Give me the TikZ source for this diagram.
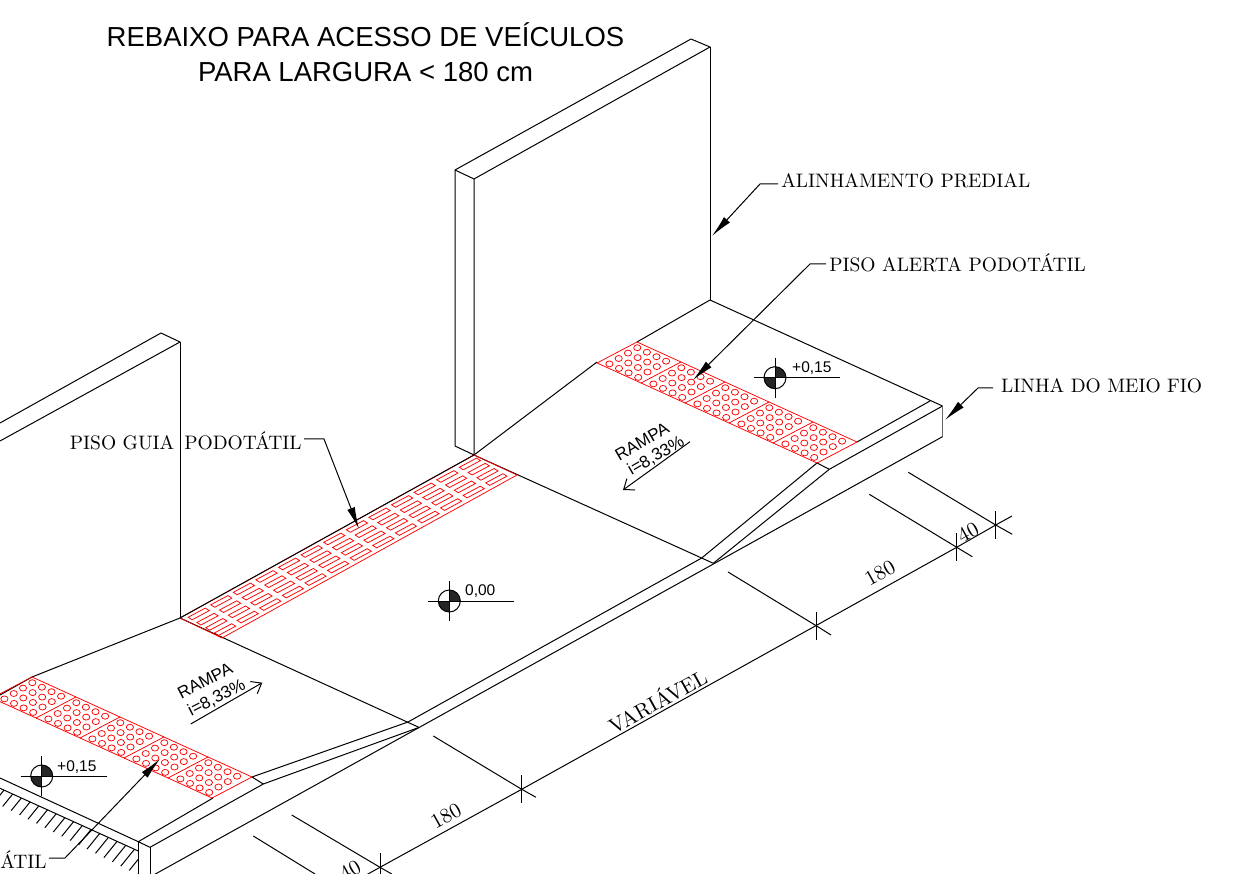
\documentclass[tikz,border=0pt]{standalone}
\usepackage{fontspec}
\usetikzlibrary{arrows.meta}
\newfontfamily\arialfont{Liberation Sans}
\tikzset{
    line/.style={line width=1pt,line join=round},
    redline/.style={draw=red,line width=0.75pt},
    leader/.style={line width=1pt,-{Latex[length=22pt,width=8pt]}},
    dimline/.style={line width=1pt},
    rampline/.style={line width=1pt,-{Straight Barb[length=9pt,width=14pt]}},
    callout/.style={inner sep=0pt,anchor=west,scale=1.95,font=\fontsize{10}{12}\selectfont},
    dimtext/.style={inner sep=0pt,rotate=29,scale=2.1,font=\fontsize{10}{12}\selectfont},
    ramptext/.style={inner sep=0pt,font=\arialfont\fontsize{17}{19}\selectfont},
    leveltext/.style={inner sep=0pt,anchor=west,font=\arialfont\fontsize{15.5}{18}\selectfont},
    levelmark/.pic={
        \fill[black!85] (0,0) -- (11pt,0pt) arc[start angle=0,end angle=90,radius=11pt] -- cycle;
        \fill[black!85] (0,0) -- (-11pt,0pt) arc[start angle=180,end angle=270,radius=11pt] -- cycle;
        \draw[line] (0,0) circle[radius=11pt];
        \draw[line] (-21,0) -- (65,0);
        \draw[line] (0,-20) -- (0,20);
    },
    alertband/.pic={
        \draw[redline] (0,0) -- (220,100) -- (180,121) -- (-40,21) -- cycle;
        \foreach \i in {1,...,4}
            \draw[redline] (44*\i,20*\i) -- (44*\i-40,20*\i+21);
        \foreach \i in {0,...,4}
            \foreach \a in {0,...,3}
                \foreach \b in {0,...,3}
                    \draw[redline] ({0.3+44*\i+9.6*\a-9.3*\b},{5.7+20*\i+4.5*\a+5.4*\b}) ellipse[x radius=3.6pt,y radius=3pt];
    }
}
\begin{document}
\begin{tikzpicture}[x=1pt,y=-1pt]
        \useasboundingbox (0,0) rectangle (1240,874);
        \clip (0,0) rectangle (1240,874);

        \node[inner sep=0pt,align=center,font=\arialfont\fontsize{27.5}{35}\selectfont] (title) at (365.5,52) {REBAIXO PARA ACESSO DE VEÍCULOS\\PARA LARGURA < 180 cm};

        \coordinate (rtopa) at (455,170);
        \coordinate (rtopb) at (691,39);
        \coordinate (rtopc) at (710,47);
        \coordinate (rtopd) at (474,179);
        \coordinate (rbasea) at (455,446);
        \coordinate (rbaseb) at (474,455);
        \coordinate (rbasec) at (710,300);
        \draw[line] (rtopa) -- (rtopb) -- (rtopc) -- (rtopd) -- cycle;
        \draw[line] (rtopa) -- (rbasea) -- (rbaseb) -- (rtopd);
        \draw[line] (rtopc) -- (rbasec);

        \coordinate (ltopb) at (161,333);
        \coordinate (ltopc) at (180,342);
        \coordinate (lbase) at (180,618);
        \draw[line] (0,423) -- (ltopb) -- (ltopc) -- (0,441);
        \draw[line] (ltopc) -- (lbase);

        \coordinate (alertrt) at (637,342);
        \coordinate (alertrl) at (597,362);
        \coordinate (alertre) at (857,442);
        \coordinate (alertrb) at (817,463);
        \coordinate (curbrin) at (930,401);
        \coordinate (curbrout) at (942.5,406);
        \coordinate (curbrlow) at (942.5,436.7);
        \coordinate (curbrmid) at (829.3,469.3);
        \coordinate (ramprin) at (701.7,558);
        \coordinate (ramprout) at (713.3,563.3);
        \draw[line] (rbasec) -- (curbrout);
        \draw[line] (rbasec) -- (alertrt);
        \draw[line] (alertrl) -- (rbaseb) -- (ramprout);
        \draw[line] (alertre) -- (curbrin);
        \draw[line] (alertrb) -- (curbrmid) -- (curbrout);
        \draw[line] (alertrb) -- (ramprin);
        \draw[line] (curbrmid) -- (ramprout);
        \draw[draw=black!60,line width=1.6pt] (curbrout) -- (curbrlow);

        \coordinate (ramplin) at (408,722);
        \coordinate (ramplout) at (419,727.4);
        \coordinate (alertlt) at (32,677);
        \coordinate (alertle) at (252,777);
        \coordinate (alertlb) at (213,798);
        \coordinate (curblmid) at (263.3,784);
        \coordinate (curblin) at (138.3,841.7);
        \coordinate (curblout) at (150,847.3);
        \coordinate (curbllow) at (150,877);
        \draw[line] (ramprin) -- (ramplin) -- (alertle);
        \draw[line] (ramplout) -- (curblmid);
        \draw[line] (lbase) -- (ramplout);
        \draw[line] (lbase) -- (alertlt) -- (0,695);
        \draw[line] (alertle) -- (curblmid) -- (curblout) -- (curblin) -- (alertlb);
        \draw[line] (curblin) -- (138.3,880);
        \draw[line] (curblout) -- (curbllow);
        \draw[line] (curbrlow) -- (curbllow);

        \draw[line] (0,778) -- (curblin);
        \draw[line] (0,788.3) -- (138.3,851);
        \begin{scope}
            \clip (0,788.3) -- (138.3,851) -- (138.3,875) -- (0,805) -- cycle;
            \foreach \hx in {4,12.7,...,170}
                \draw[line] (\hx,{788.3+0.453*\hx}) -- ++(-17,21);
        \end{scope}

        \pic at (alertrt) {alertband};
        \pic at (alertlt) {alertband};

        \draw[redline] (lbase) -- (474,455) -- (517,475) -- (222,638) -- cycle;
        \foreach \g in {0,...,12}
            \foreach \j in {0,...,3}
                \draw[redline] ({188.1+22.6*\g+8.8*\j},{617.3-12.5*\g+5.2*\j}) -- ++(17.2,-9.2) -- ++(4,2.5) -- ++(-17.2,9.2) -- cycle;
        \draw[line] (lbase) -- (rbaseb);

        \pic at (775,377.7) {levelmark};
        \pic at (449.3,601) {levelmark};
        \pic at (41.7,776) {levelmark};
        \node[leveltext] (levela) at (792,368) {+0,15};
        \node[leveltext] (levelb) at (465,591) {0,00};
        \node[leveltext] (levelc) at (57,767) {+0,15};

        \node[ramptext,rotate=30] (ramprt) at (642,441.6) {RAMPA};
        \node[ramptext,rotate=30] (ramprti) at (656,456) {i=8,33\%};
        \coordinate (arrowra) at (690,441.7);
        \coordinate (arrowrb) at (623,490);
        \draw[rampline] (arrowra) -- (arrowrb);

        \node[ramptext,rotate=27] (ramplt) at (205,680.7) {RAMPA};
        \node[ramptext,rotate=27] (rampltu) at (216.7,698) {i=8,33\%};
        \coordinate (arrowla) at (190.7,724);
        \coordinate (arrowlb) at (262.3,682.7);
        \draw[rampline] (arrowla) -- (arrowlb);

        \node[callout,inner xsep=1.5pt] (predial) at (778,181) {ALINHAMENTO PREDIAL};
        \coordinate (predialel) at (760,184);
        \coordinate (predialtip) at (712,236);
        \draw[leader] (predial.west |- predialel) -- (predialel) -- (predialtip);

        \node[callout,inner xsep=1.5pt] (alerta) at (826,263) {PISO ALERTA PODOTÁTIL};
        \coordinate (alertael) at (810,264);
        \coordinate (alertatip) at (693,380);
        \draw[leader] (alerta.west |- alertael) -- (alertael) -- (alertatip);

        \node[callout,inner xsep=4pt] (meiofio) at (993,386) {LINHA DO MEIO FIO};
        \coordinate (meiofioel) at (978,388);
        \coordinate (meiofiotip) at (945,420);
        \draw[leader] (meiofio.west |- meiofioel) -- (meiofioel) -- (meiofiotip);

        \node[callout,anchor=east,inner xsep=1pt] (guia) at (304,441) {PISO GUIA\ \ \hspace{-1.5pt}PODOTÁTIL};
        \coordinate (guiael) at (324,439);
        \coordinate (guiatip) at (359,529);
        \draw[leader] (guia.east |- guiael) -- (guiael) -- (guiatip);

        \node[callout,anchor=east,inner xsep=1pt] (atil) at (49,860) {ÁTIL};
        \coordinate (atilel) at (65,858);
        \coordinate (atiltip) at (160,759);
        \draw[leader] (atil.east |- atilel) -- (atilel) -- (atiltip);

        \coordinate (dima) at (380,867.3);
        \coordinate (dimb) at (521.7,789.3);
        \coordinate (dimc) at (816,625.6);
        \coordinate (dimd) at (956.7,547.3);
        \coordinate (dime) at (995.7,525);
        \draw[dimline] (360,878.4) -- (dima) -- (dimb) -- (dimc) -- (dimd) -- (dime) -- (1012,516);
        \foreach \t in {dima,dimb,dimc,dimd,dime}
            \draw[dimline] (\t) ++(0,-14) -- ++(0,28);
        \draw[dimline] (253.3,836) -- (315,874);
        \draw[dimline] (291.7,815) -- (dima) -- (391.7,874);
        \draw[dimline] (433.3,736) -- (dimb) -- (536,797.3);
        \draw[dimline] (728,572) -- (dimc) -- (831,635);
        \draw[dimline] (869.3,494.3) -- (dimd) -- (972.3,556.7);
        \draw[dimline] (908.3,472.3) -- (dime) -- (1012.3,534.3);

        \node[dimtext] (dimtexta) at (350,870) {40};
        \node[dimtext] (dimtextb) at (446,816) {180};
        \node[dimtext] (dimtextc) at (657,700) {VARIÁVEL};
        \node[dimtext] (dimtextd) at (880,573) {180};
        \node[dimtext] (dimtexte) at (968,532) {40};
\end{tikzpicture}
\end{document}
